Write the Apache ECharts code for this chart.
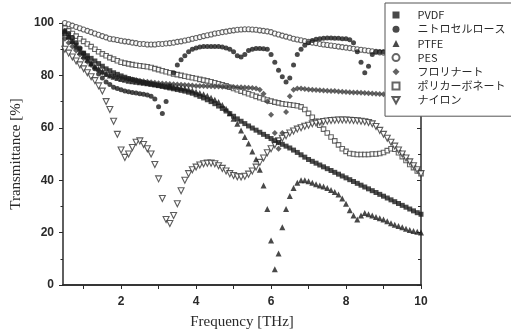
<!DOCTYPE html>
<html>
<head>
<meta charset="utf-8">
<script src="https://cdn.jsdelivr.net/npm/echarts@6/dist/echarts.min.js"></script>
<style>
  html, body { margin: 0; padding: 0; background: #fff; }
  #chart { width: 511px; height: 335px; }
</style>
</head>
<body>
<div id="chart"></div>
<script>
// measurement grid [THz]
const freq = [
  0.5, 0.6, 0.7, 0.8, 0.9, 1.0,
  1.1, 1.2, 1.3, 1.4, 1.5, 1.6, 1.7, 1.8, 1.9, 2.0,
  2.1, 2.2, 2.3, 2.4, 2.5, 2.6, 2.7, 2.8, 2.9, 3.0,
  3.1, 3.2, 3.3, 3.4, 3.5, 3.6, 3.7, 3.8, 3.9, 4.0,
  4.1, 4.2, 4.3, 4.4, 4.5, 4.6, 4.7, 4.8, 4.9, 5.0,
  5.1, 5.2, 5.3, 5.4, 5.5, 5.6, 5.7, 5.8, 5.9, 6.0,
  6.1, 6.2, 6.3, 6.4, 6.5, 6.6, 6.7, 6.8, 6.9, 7.0,
  7.1, 7.2, 7.3, 7.4, 7.5, 7.6, 7.7, 7.8, 7.9, 8.0,
  8.1, 8.2, 8.3, 8.4, 8.5, 8.6, 8.7, 8.8, 8.9, 9.0,
  9.1, 9.2, 9.3, 9.4, 9.5, 9.6, 9.7, 9.8, 9.9, 10.0
];

// transmittance [%]
const pvdf = [
  96, 94.5, 93, 91.5, 90, 88.5,
  87.5, 86.5, 85.5, 84.5, 83.5, 82.5, 81.8, 81, 80.4, 79.8,
  79.3, 78.8, 78.4, 78, 77.6, 77.3, 77, 76.7, 76.4, 76.1,
  75.8, 75.5, 75.2, 74.9, 74.6, 74.3, 74, 73.6, 73.2, 72.6,
  72, 71.4, 70.7, 70, 69.2, 68.3, 67.4, 66.4, 65.4, 64.4,
  63.4, 62.5, 61.6, 60.7, 59.9, 59.1, 58.3, 57.5, 56.7, 55.9,
  55.1, 54.4, 53.7, 53, 52.3, 51.5, 50.6, 49.7, 48.8, 47.9,
  47.2, 46.5, 45.8, 45.1, 44.4, 43.7, 43, 42.3, 41.6, 40.9,
  40.2, 39.5, 38.8, 38.1, 37.4, 36.7, 36, 35.3, 34.6, 33.9,
  33.2, 32.5, 31.8, 31.1, 30.4, 29.7, 29, 28.3, 27.6, 27
];
const nitro = [
  97, 96, 94.5, 92.5, 90.5, 88.5,
  86.5, 84.5, 82.5, 80.5, 79, 77.5, 76.5, 75.5, 75, 74.5,
  74, 73.8, 73.5, 73.3, 73, 72.8, 72.5, 72, 71, 68,
  65.5, 70, 76, 81, 84, 86, 87.5, 89, 90, 90.5,
  90.8, 91, 91, 91, 91, 91, 90.8, 90.5, 90, 89,
  87.5, 87, 88, 89.5, 90, 90.3, 90.3, 90.2, 90, 88,
  85, 82, 79.5, 77.5, 79, 84, 88, 90, 91.5, 92.5,
  93.3, 93.8, 94, 94.2, 94.3, 94.3, 94.2, 94.2, 94, 94,
  93.6, 92.5, 89, 85, 81, 83.5, 88, 89, 89, 89,
  89, 89.2, 89.3, 89.4, 89.5, 89.6, 89.7, 89.8, 89.9, 90
];
const ptfe = [
  97, 95, 93, 91, 89, 87.5,
  86, 84.5, 83.5, 82.5, 81.5, 80.5, 80, 79.5, 79, 78.6,
  78.3, 78, 77.8, 77.6, 77.4, 77.2, 77, 76.8, 76.6, 76.4,
  76.2, 76, 75.8, 75.6, 75.4, 75.2, 75, 74.6, 74.2, 73.8,
  73.3, 72.8, 72.2, 71.5, 70.7, 69.8, 68.7, 67.3, 65.6, 63.5,
  61.5, 59, 56.5, 54, 51, 48, 44, 38, 29, 17,
  6, 12, 22, 29, 34, 37, 39, 40, 40, 39.6,
  39, 38.5, 38, 37.6, 37, 36.3, 35.5, 34.5, 33, 31,
  28.5, 26.5, 25, 26.5, 27.5, 27, 26.5, 26, 25.5, 25,
  24.3, 23.6, 23, 22.5, 22, 21.5, 21, 20.6, 20.3, 20
];
const pes = [
  100, 99.5, 99, 98.5, 98, 97.5,
  97, 96.5, 96, 95.5, 95, 94.5, 94, 93.8, 93.5, 93.2,
  93, 92.8, 92.5, 92.3, 92, 92, 91.8, 91.8, 91.8, 92,
  92, 92.2, 92.3, 92.5, 92.8, 93, 93.3, 93.6, 94, 94.3,
  94.6, 95, 95.3, 95.6, 96, 96.2, 96.5, 96.7, 97, 97.2,
  97.4, 97.5, 97.6, 97.6, 97.5, 97.4, 97.2, 97, 96.8, 96.5,
  96, 95.6, 95.2, 94.8, 94.4, 94, 93.7, 93.4, 93.1, 92.8,
  92.5, 92.3, 92, 91.8, 91.6, 91.4, 91.2, 91, 90.8, 90.6,
  90.4, 90.2, 90, 89.8, 89.6, 89.4, 89.2, 89, 88.8, 88.7,
  88.6, 88.5, 88.4, 88.3, 88.2, 88.1, 88, 88, 87.9, 87.8
];
const fluorinert = [
  94, 92.5, 91, 89.5, 88, 86.5,
  85.2, 84, 83, 82, 81.2, 80.5, 80, 79.6, 79.3, 79,
  78.8, 78.6, 78.4, 78.2, 78, 77.8, 77.6, 77.4, 77.2, 77,
  76.9, 76.8, 76.7, 76.6, 76.5, 76.4, 76.3, 76.2, 76.1, 76,
  76, 76, 75.9, 75.9, 75.8, 75.8, 75.7, 75.7, 75.6, 75.6,
  75.5, 75.5, 75.4, 75.3, 75.2, 75, 74.5, 73, 70, 65,
  58, 52, 58, 66, 72, 74.5, 75, 75, 74.8, 74.6,
  74.5, 74.4, 74.3, 74.2, 74.1, 74, 74, 73.9, 73.8, 73.7,
  73.6, 73.5, 73.5, 73.4, 73.3, 73.2, 73.1, 73, 72.9, 72.8,
  72.7, 72.6, 72.5, 72.5, 72.4, 72.3, 72.2, 72.1, 72, 72
];
const polycarb = [
  98, 97, 96, 95, 94, 93,
  92, 91, 90, 89, 88.2, 87.5, 86.8, 86.2, 85.6, 85,
  84.7, 84.4, 84.1, 83.9, 83.7, 83.5, 83.3, 83, 82.6, 82.2,
  81.8, 81.4, 81, 80.6, 80.3, 80, 79.7, 79.4, 79.1, 78.8,
  78.5, 78.2, 77.9, 77.6, 77.2, 76.8, 76.4, 76, 75.5, 75,
  74.5, 74, 73.5, 73, 72.5, 72, 71.5, 71, 70.6, 70.2,
  69.8, 69.5, 69.2, 69, 68.8, 68.6, 68.4, 68, 67, 65.5,
  64, 62.5, 61, 59.5, 58, 56.5, 55, 53.5, 52, 51,
  50.2, 50, 49.8, 49.8, 49.8, 49.8, 50, 50, 50.2, 50.6,
  51.3, 52, 51.8, 50.5, 49, 47.5, 46, 44.8, 43.5, 42.5
];
const nylon = [
  90, 88.5, 87, 85.5, 84, 82.5,
  81, 79.5, 78, 76, 74, 70, 67, 62.5, 57.5, 51.5,
  48.7, 50, 52.5, 54.5, 55, 53.6, 52, 50, 46, 40.5,
  33, 25, 23.5, 26.5, 31, 36, 40, 42.5, 44, 45,
  45.8, 46.3, 46.5, 46.5, 46.3, 45.5, 44.5, 43.5, 42.5, 41.8,
  41.3, 41.2, 41.5, 42.3, 43.5, 45, 46.8, 48.5, 50.5, 52,
  53.5, 55, 56, 57, 58, 58.8, 59.5, 60, 60.6, 61,
  61.5, 61.8, 62.1, 62.4, 62.6, 62.8, 62.9, 63, 63, 63,
  62.9, 62.8, 62.7, 62.5, 62.3, 62, 61.5, 60.5, 59, 57.5,
  56, 54.5, 53, 51.5, 50, 48.5, 47, 45.5, 44, 42.5
];

const names = ['PVDF', 'ニトロセルロース', 'PTFE', 'PES', 'フロリナート', 'ポリカーボネート', 'ナイロン'];
const xLabels = [2, 4, 6, 8, 10];

const pairs = (vals) => freq.map((f, i) => [f, vals[i]]).filter(p => p[1] != null);

const dark = '#1c1c1c';
const open = (c) => ({ color: '#fff', borderColor: c, borderWidth: 1.1 });
const downTri = 'path://M0,0 L10,0 L5,9 Z';

var chart = echarts.init(document.getElementById('chart'));
const axisColor = '#2a2a2a';
const labelFont = { color: '#2a2a2a', fontSize: 12, fontFamily: 'Liberation Sans', fontWeight: 'bold' };

const option = {
  animation: false,
  backgroundColor: '#fff',
  grid: { left: 63, top: 23, width: 358, height: 267 },
  legend: {
    data: names.map(n => n === 'ナイロン' ? { name: n, icon: downTri } : { name: n }),
    orient: 'vertical',
    left: 385, top: 3,
    padding: [6, 30, 10, 6.5],
    itemWidth: 7, itemHeight: 7, itemGap: 2.2,
    backgroundColor: '#fff',
    borderColor: '#555', borderWidth: 1,
    textStyle: { fontSize: 11, color: '#2a2a2a', fontFamily: 'Noto Sans CJK JP', lineHeight: 12, padding: [0, 0, 0, 13] }
  },
  xAxis: [
    {
      type: 'value', min: 0.45, max: 10, position: 'bottom',
      name: 'Frequency [THz]', nameLocation: 'middle', nameGap: 30,
      nameTextStyle: { fontFamily: 'Liberation Serif', fontSize: 15, color: '#2a2a2a' },
      axisLine: { onZero: false, lineStyle: { color: axisColor, width: 1.5 } },
      axisTick: { customValues: xLabels, length: 4, lineStyle: { color: axisColor } },
      axisLabel: { customValues: xLabels, margin: 11, ...labelFont },
      splitLine: { show: false }
    },
    {
      type: 'value', min: 0.45, max: 10, position: 'top',
      axisLine: { lineStyle: { color: axisColor, width: 1.5 } },
      axisTick: { inside: true, customValues: [1, 2, 3, 4, 5, 6, 7, 8, 9], length: 4, lineStyle: { color: axisColor } },
      axisLabel: { show: false },
      splitLine: { show: false }
    },
    {
      type: 'value', min: 0.45, max: 10, position: 'bottom',
      axisLine: { show: false },
      axisTick: { customValues: [1, 3, 5, 7, 9], length: 2.5, lineStyle: { color: axisColor } },
      axisLabel: { show: false },
      splitLine: { show: false }
    }
  ],
  yAxis: [
    {
      type: 'value', min: 0, max: 100, interval: 20, position: 'left',
      name: 'Transmittance [%]', nameLocation: 'middle', nameGap: 35,
      nameTextStyle: { fontFamily: 'Liberation Serif', fontSize: 15, color: '#2a2a2a' },
      axisLine: { show: true, lineStyle: { color: axisColor, width: 1.5 } },
      axisTick: { show: true, length: 4, lineStyle: { color: axisColor } },
      minorTick: { show: true, splitNumber: 2, length: 2.5, lineStyle: { color: axisColor } },
      axisLabel: { margin: 9, ...labelFont },
      splitLine: { show: false }
    },
    {
      type: 'value', min: 0, max: 100, interval: 20, position: 'right',
      axisLine: { show: true, lineStyle: { color: axisColor, width: 1.5 } },
      axisTick: { show: true, inside: true, length: 4, lineStyle: { color: axisColor } },
      minorTick: { show: true, splitNumber: 2, length: 3, lineStyle: { color: axisColor } },
      axisLabel: { show: false },
      splitLine: { show: false }
    }
  ],
  series: [
    { name: 'PES', type: 'scatter', symbol: 'circle', symbolSize: 5, itemStyle: open('#404040'), data: pairs(pes) },
    { name: 'ポリカーボネート', type: 'scatter', symbol: 'rect', symbolSize: 4.5, itemStyle: open('#404040'), data: pairs(polycarb) },
    { name: 'ナイロン', type: 'scatter', symbol: downTri, symbolSize: 6, itemStyle: open('#333'), data: pairs(nylon) },
    { name: 'フロリナート', type: 'scatter', symbol: 'diamond', symbolSize: 6, itemStyle: { color: '#3c3c3c' }, data: pairs(fluorinert) },
    { name: 'PTFE', type: 'scatter', symbol: 'triangle', symbolSize: 6, itemStyle: { color: dark }, data: pairs(ptfe) },
    { name: 'PVDF', type: 'scatter', symbol: 'rect', symbolSize: 5, itemStyle: { color: dark }, data: pairs(pvdf) },
    { name: 'ニトロセルロース', type: 'scatter', symbol: 'circle', symbolSize: 5, itemStyle: { color: dark }, data: pairs(nitro) }
  ]
};
chart.setOption(option);
</script>
</body>
</html>
